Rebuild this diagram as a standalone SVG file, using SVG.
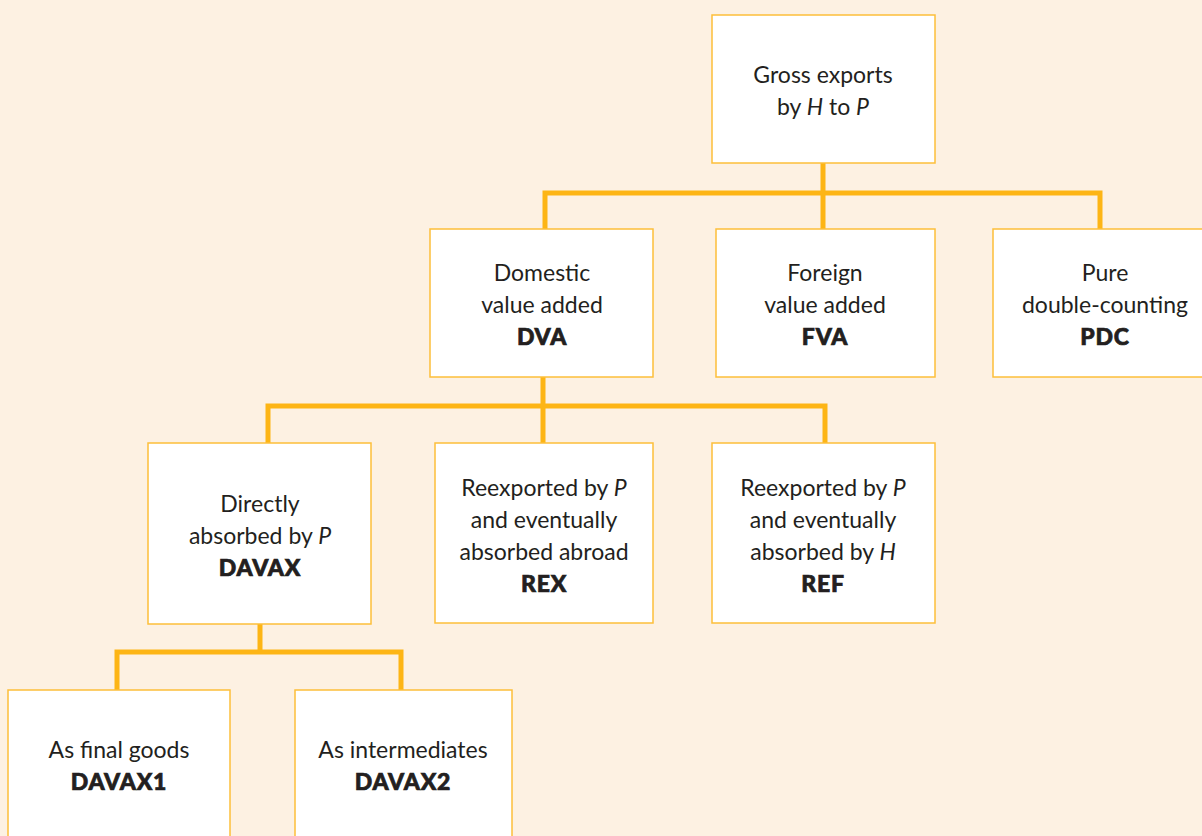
<svg xmlns="http://www.w3.org/2000/svg" width="1202" height="836" viewBox="0 0 1202 836">
<style>
.bg{fill:#fdf1e2}
.box{fill:#ffffff;stroke:#fdbf3a;stroke-width:1.5}
.ln{fill:none;stroke:#fdb515;stroke-width:5;stroke-linejoin:miter;stroke-linecap:butt}
text{font-family:Lato,"Open Sans","Liberation Sans",sans-serif;font-size:23px;fill:#231f20;text-anchor:middle}
.b{font-weight:900;letter-spacing:0.8px;stroke:#231f20;stroke-width:0.7}
.i{font-style:italic}
</style>
<rect class="bg" x="0" y="0" width="1202" height="836"/>
<g id="connectors">
<path class="ln" d="M823,163 V229 M545,229 V193 H1100 V229"/>
<path class="ln" d="M543,377 V443 M268,443 V406 H825 V443"/>
<path class="ln" d="M260,624 V652 M117,690 V652 H401 V690"/>
</g>
<g id="n-gross">
<rect class="box" x="712" y="15" width="223" height="148"/>
<text x="823" y="83">Gross exports</text>
<text x="823" y="115">by <tspan class="i">H</tspan> to <tspan class="i">P</tspan></text>
</g>
<g id="n-dva">
<rect class="box" x="430" y="229" width="223" height="148"/>
<text x="542" y="281">Domestic</text>
<text x="542" y="313">value added</text>
<text class="b" x="542" y="345">DVA</text>
</g>
<g id="n-fva">
<rect class="box" x="716" y="229" width="219" height="148"/>
<text x="825" y="281">Foreign</text>
<text x="825" y="313">value added</text>
<text class="b" x="825" y="345">FVA</text>
</g>
<g id="n-pdc">
<rect class="box" x="993" y="229" width="220" height="148"/>
<text x="1105" y="281">Pure</text>
<text x="1105" y="313">double-counting</text>
<text class="b" x="1105" y="345">PDC</text>
</g>
<g id="n-davax">
<rect class="box" x="148" y="443" width="223" height="181"/>
<text x="260" y="512">Directly</text>
<text x="260" y="544">absorbed by <tspan class="i">P</tspan></text>
<text class="b" x="260" y="576">DAVAX</text>
</g>
<g id="n-rex">
<rect class="box" x="435" y="443" width="218" height="180"/>
<text x="544" y="496">Reexported by <tspan class="i">P</tspan></text>
<text x="544" y="528">and eventually</text>
<text x="544" y="560">absorbed abroad</text>
<text class="b" x="544" y="592">REX</text>
</g>
<g id="n-ref">
<rect class="box" x="712" y="443" width="223" height="180"/>
<text x="823" y="496">Reexported by <tspan class="i">P</tspan></text>
<text x="823" y="528">and eventually</text>
<text x="823" y="560">absorbed by <tspan class="i">H</tspan></text>
<text class="b" x="823" y="592">REF</text>
</g>
<g id="n-davax1">
<rect class="box" x="8" y="690" width="222" height="160"/>
<text x="119" y="758">As final goods</text>
<text class="b" x="119" y="790">DAVAX1</text>
</g>
<g id="n-davax2">
<rect class="box" x="295" y="690" width="217" height="160"/>
<text x="403" y="758">As intermediates</text>
<text class="b" x="403" y="790">DAVAX2</text>
</g>
</svg>
